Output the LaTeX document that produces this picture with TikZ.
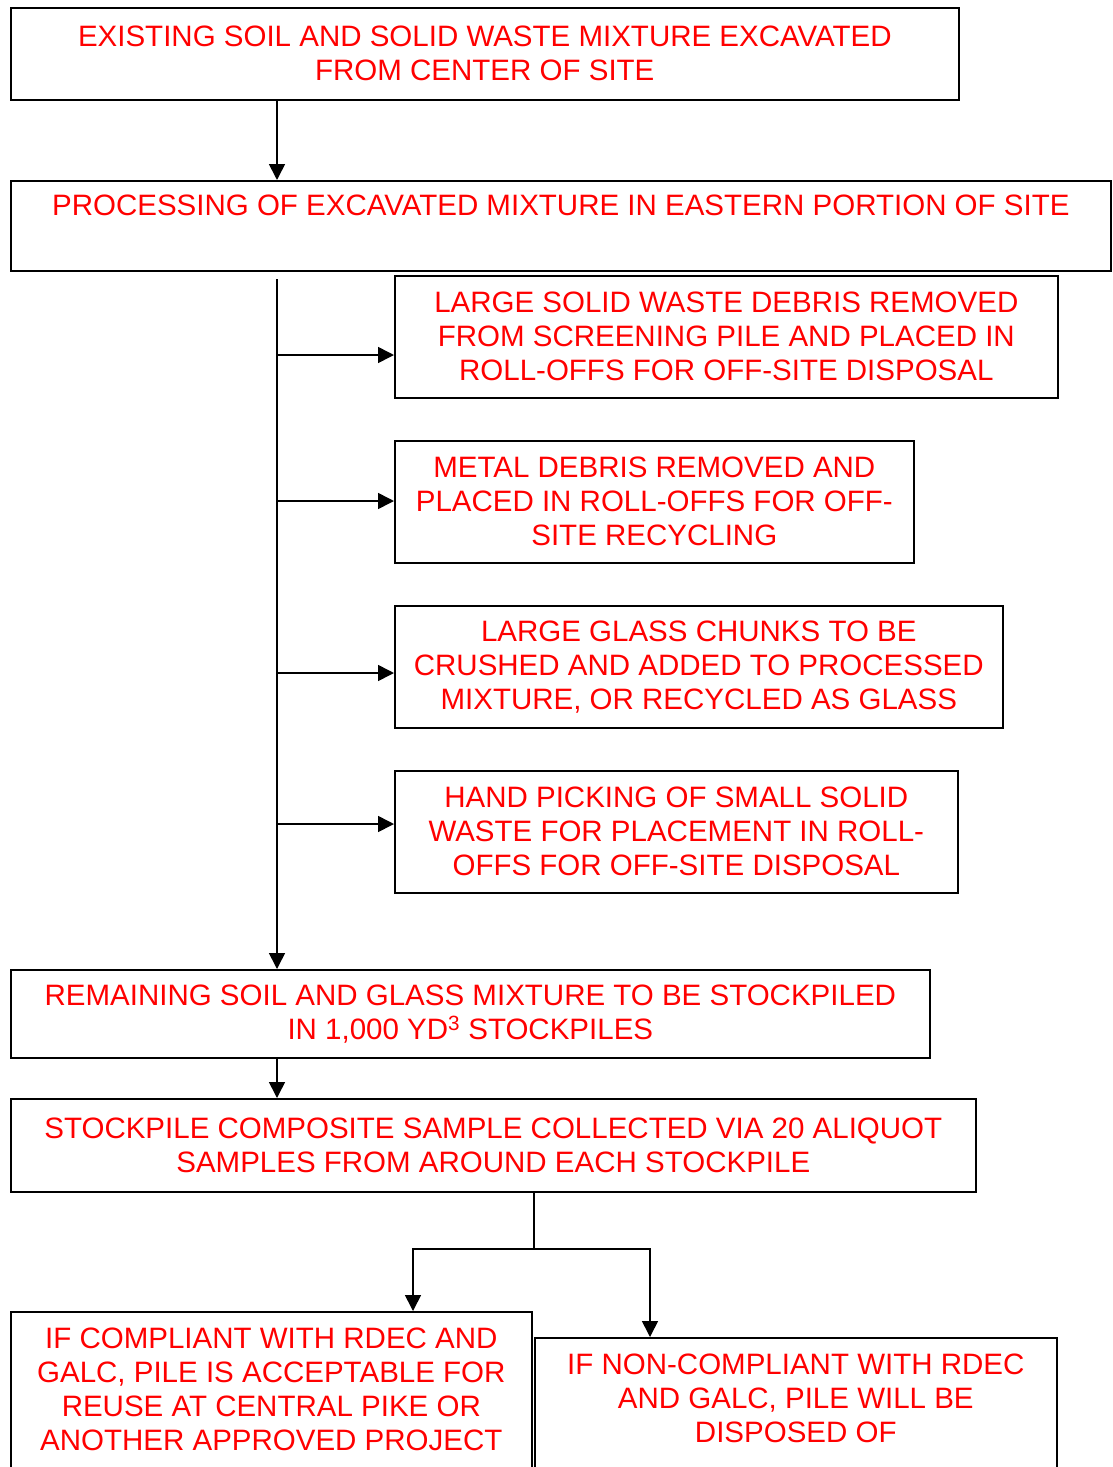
\documentclass[tikz,border=0pt]{standalone}
\usepackage{fontspec}
\setmainfont{Liberation Sans}
\usepackage{xcolor}
\usetikzlibrary{arrows.meta,positioning,calc}

\tikzset{
  box/.style={draw, line width=1.6pt, anchor=north west, align=center, inner sep=0pt,
    text=red, font=\fontsize{29.5}{34}\selectfont},
  arr/.style={line width=1.6pt, -{Triangle[length=16pt,width=16pt]}},
  link/.style={line width=1.6pt}
}

\begin{document}
\begin{tikzpicture}[x=1pt,y=-1pt]
\useasboundingbox (0,0) rectangle (1112,1467);
\clip (0,0) rectangle (1112,1467);
% main boxes
\node[box, minimum width=948pt, minimum height=92pt] (excav) at (10,7)
  {EXISTING SOIL AND SOLID WASTE MIXTURE EXCAVATED\\FROM CENTER OF SITE};
\node[box, minimum width=1100pt, minimum height=90pt] (proc) at (10,180)
  {\strut PROCESSING OF EXCAVATED MIXTURE IN EASTERN PORTION OF SITE\\\strut};
% side boxes
\node[box, minimum width=663pt, minimum height=122pt] (debris) at (394,275)
  {LARGE SOLID WASTE DEBRIS REMOVED\\FROM SCREENING PILE AND PLACED IN\\ROLL-OFFS FOR OFF-SITE DISPOSAL};
\node[box, minimum width=519pt, minimum height=122pt] (metal) at (394,440)
  {METAL DEBRIS REMOVED AND\\PLACED IN ROLL-OFFS FOR OFF-\\SITE RECYCLING};
\node[box, minimum width=608pt, minimum height=122pt] (glass) at (394,605)
  {LARGE GLASS CHUNKS TO BE\\CRUSHED AND ADDED TO PROCESSED\\MIXTURE, OR RECYCLED AS GLASS};
\node[box, minimum width=563pt, minimum height=122pt] (hand) at (394,770)
  {HAND PICKING OF SMALL SOLID\\WASTE FOR PLACEMENT IN ROLL-\\OFFS FOR OFF-SITE DISPOSAL};
% lower boxes
\node[box, minimum width=919pt, minimum height=88pt] (remain) at (10,969)
  {REMAINING SOIL AND GLASS MIXTURE TO BE STOCKPILED\\IN 1,000 YD\textsuperscript{3} STOCKPILES};
\node[box, minimum width=965pt, minimum height=93pt] (sample) at (10,1098)
  {STOCKPILE COMPOSITE SAMPLE COLLECTED VIA 20 ALIQUOT\\SAMPLES FROM AROUND EACH STOCKPILE};
\node[box, minimum width=521pt, minimum height=198pt] (comply) at (10,1311)
  {IF COMPLIANT WITH RDEC AND\\GALC, PILE IS ACCEPTABLE FOR\\REUSE AT CENTRAL PIKE OR\\ANOTHER APPROVED PROJECT\\\strut};
\node[box, minimum width=522pt, minimum height=198pt] (noncomply) at (534,1337)
  {IF NON-COMPLIANT WITH RDEC\\AND GALC, PILE WILL BE\\DISPOSED OF\\\strut\\\strut};
% connectors
\coordinate (trunk) at (277,279);
\coordinate (t1) at (277,355);
\coordinate (t2) at (277,501);
\coordinate (t3) at (277,673);
\coordinate (t4) at (277,824);
\coordinate (split) at (534,1249);
\coordinate (lft) at (413,1249);
\coordinate (rgt) at (650,1249);
\draw[arr] (excav.south -| trunk) -- (proc.north -| trunk);
\draw[arr] (trunk) -- (remain.north -| trunk);
\draw[arr] (t1) -- (t1 -| debris.west);
\draw[arr] (t2) -- (t2 -| metal.west);
\draw[arr] (t3) -- (t3 -| glass.west);
\draw[arr] (t4) -- (t4 -| hand.west);
\draw[arr] (remain.south -| trunk) -- (sample.north -| trunk);
\draw[link] (sample.south -| split) -- (split);
\draw[arr] (split) -- (lft) -- (lft |- comply.north);
\draw[arr] (split) -- (rgt) -- (rgt |- noncomply.north);
\end{tikzpicture}
\end{document}
